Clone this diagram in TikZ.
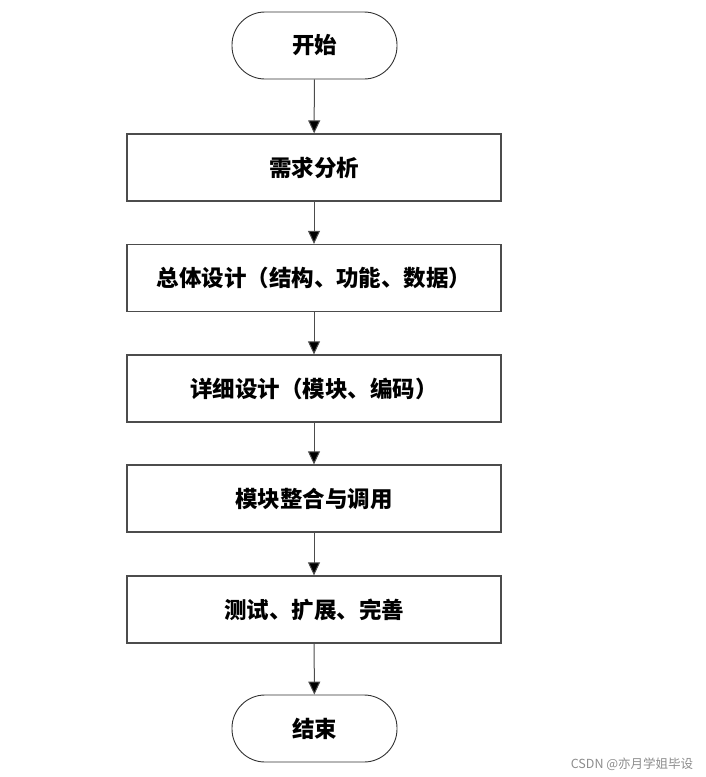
\documentclass[tikz,border=0pt]{standalone}
\usepackage{fontspec}
\setmainfont{Noto Sans CJK SC}
\usetikzlibrary{arrows.meta,positioning}
\tikzset{
  stepbox/.style = {draw=black!70, line width=1.3pt, minimum width=374pt, minimum height=67pt, inner sep=0pt},
  termbox/.style = {draw=black!80, line width=0.9pt, rounded corners=33pt, minimum width=165pt, minimum height=67pt, inner sep=0pt},
  flow/.style    = {draw=black!70, line width=1pt, -{Triangle[width=12pt,length=13pt,fill=black]}},
}
\begin{document}
\begin{tikzpicture}[x=1pt, y=-1pt, font=\fontsize{22.5}{26}\selectfont\bfseries]
        \useasboundingbox (0,0) rectangle (705,777);
        \node[termbox] (start)  at (314.5, 45.5)  {开始};
        \node[stepbox] (need)   at (314, 167.5)   {需求分析};
        \node[stepbox] (global) at (314, 278)     {总体设计（结构、功能、数据）};
        \node[stepbox] (detail) at (314, 388.5)   {详细设计（模块、编码）};
        \node[stepbox] (merge)  at (314, 498.5)   {模块整合与调用};
        \node[stepbox] (test)   at (314, 609.5)   {测试、扩展、完善};
        \node[termbox] (finish) at (314.5, 728.5) {结束};
        \draw[flow] (start)  -- (need);
        \draw[flow] (need)   -- (global);
        \draw[flow] (global) -- (detail);
        \draw[flow] (detail) -- (merge);
        \draw[flow] (merge)  -- (test);
        \draw[flow] (test)   -- (finish);
        \node[text=black!45, font=\fontsize{12.5}{14}\selectfont] (mark) at (632, 764) {CSDN @亦月学姐毕设};
      \end{tikzpicture}
\end{document}
